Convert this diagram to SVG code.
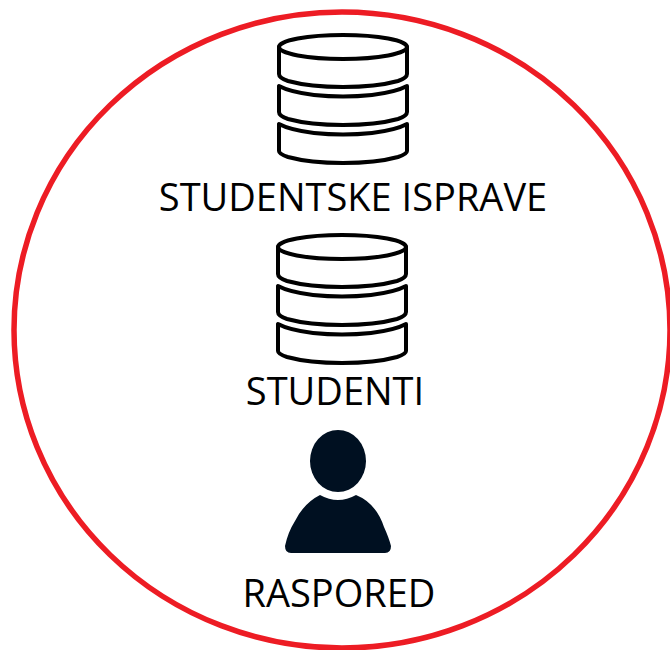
<svg xmlns="http://www.w3.org/2000/svg" width="670" height="650" viewBox="0 0 670 650">
<style>
.db{fill:none;stroke:#000;stroke-width:4;stroke-linejoin:round;stroke-linecap:round}
.lbl{font-family:"Open Sans","Noto Sans",sans-serif;font-size:38px;fill:#000;text-anchor:middle}
</style>
<defs>
<g id="cyl">
<ellipse cx="343" cy="47" rx="64" ry="12"/>
<path d="M279 47V74Q279 78 288 81Q310 87 343 87Q376 87 398 81Q407 78 407 74V47"/>
<path d="M279 86V112Q279 116 288 119Q310 125 343 125Q376 125 398 119Q407 116 407 112V86Q396 92 372 95Q343 98 314 95Q290 92 279 86Z"/>
<path d="M279 124V151Q279 154 288 157Q310 163 343 163Q376 163 398 157Q407 154 407 151V124Q396 130 372 133Q343 136 314 133Q290 130 279 124Z"/>
</g>
</defs>
<rect width="670" height="650" fill="#fff"/>
<g id="boundary"><ellipse cx="342" cy="330" rx="328" ry="318" fill="none" stroke="#ed1c24" stroke-width="5.500"/></g>
<g id="connectors"></g>
<g id="studentske-isprave"><use href="#cyl" class="db"/><text class="lbl" x="353" y="211">STUDENTSKE ISPRAVE</text></g>
<g id="studenti"><use href="#cyl" class="db" transform="translate(-1 200)"/><text class="lbl" x="335" y="405">STUDENTI</text></g>
<g id="raspored">
<ellipse cx="338" cy="461" rx="28" ry="31" fill="#001021"/>
<path d="M320 495Q338 505 356 495Q376 503 384 527Q389 538 391 546Q391 553 385 553H291Q285 553 285 546Q288 532 295 521Q304 503 320 495Z" fill="#001021"/>
<text class="lbl" x="339" y="607">RASPORED</text>
</g>
</svg>
